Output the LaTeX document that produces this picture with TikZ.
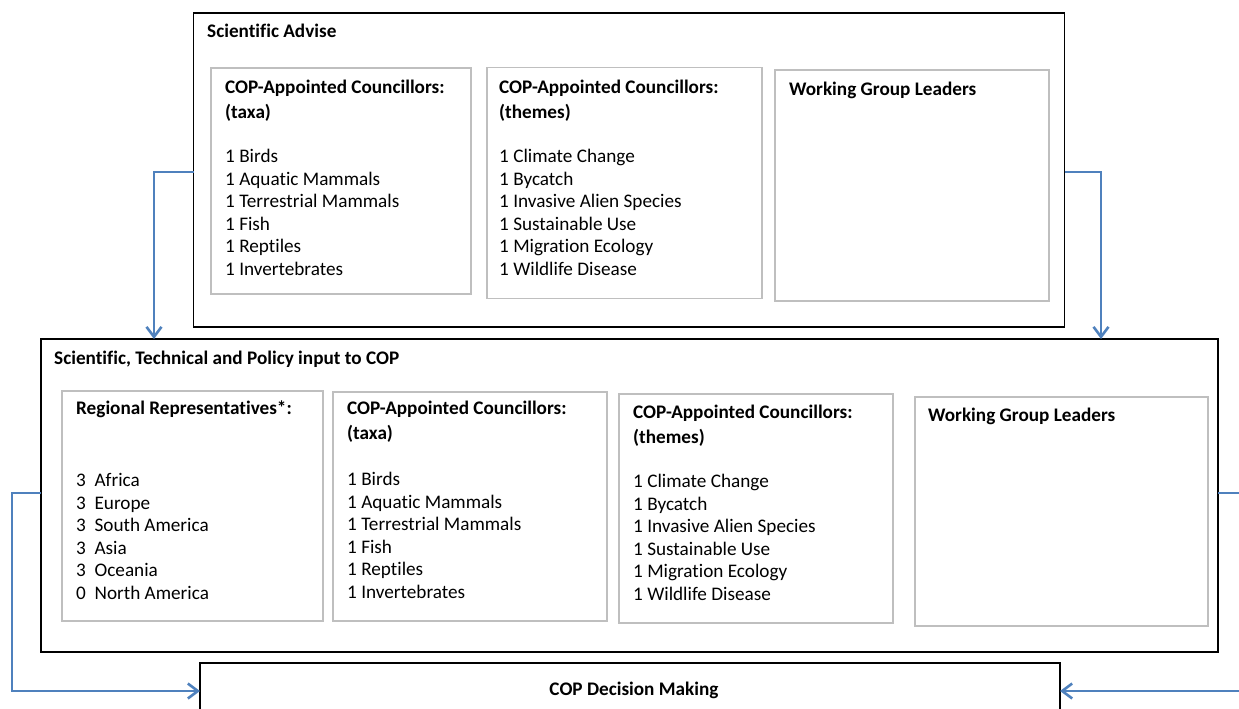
\documentclass[tikz,border=0pt]{standalone}
\usepackage{fontspec}
\setmainfont{Carlito}[Ligatures={NoCommon}]
\usetikzlibrary{arrows.meta}
\definecolor{cblue}{RGB}{79,129,189}
\definecolor{cgray}{RGB}{191,191,191}
\begin{document}
\begin{tikzpicture}[x=1pt,y=-1pt,
  outerbox/.style={draw=black, line width=1.6pt, inner sep=0pt, outer sep=0pt, anchor=north west},
  innerbox/.style={draw=cgray, line width=1.4pt, inner sep=0pt, outer sep=0pt, anchor=north west},
  headtxt/.style={font=\fontsize{19.2}{25}\selectfont\bfseries, align=left, anchor=north west, inner sep=0pt},
  listtxt/.style={font=\fontsize{19.2}{22.6}\selectfont, align=left, anchor=north west, inner sep=0pt},
  conn/.style={draw=cblue, line width=2.6pt, -{Straight Barb[length=10pt,width=15pt]}}
]
\useasboundingbox (0,0) rectangle (1239,709);

% ---------- top block ----------
\node[outerbox, minimum width=871pt, minimum height=314pt] (top) at (193.5,13) {};
\node[headtxt] (toptitle) at (207,24) {Scientific Advise};

\node[innerbox, minimum width=260pt, minimum height=226pt] (tA) at (211,68) {};
\node[headtxt] (tAh) at (225,80) {COP-Appointed Councillors:\\(taxa)};
\node[listtxt] (tAl) at (225,149) {1 Birds\\1 Aquatic Mammals\\1 Terrestrial Mammals\\1 Fish\\1 Reptiles\\1 Invertebrates};

\node[innerbox, minimum width=275pt, minimum height=231pt] (tB) at (487,67.5) {};
\node[headtxt] (tBh) at (499,80) {COP-Appointed Councillors:\\(themes)};
\node[listtxt] (tBl) at (499,149) {1 Climate Change\\1 Bycatch\\1 Invasive Alien Species\\1 Sustainable Use\\1 Migration Ecology\\1 Wildlife Disease};

\node[innerbox, minimum width=274pt, minimum height=231pt] (tC) at (775,70) {};
\node[headtxt] (tCh) at (789,82) {Working Group Leaders};

% ---------- middle block ----------
\node[outerbox, minimum width=1177pt, minimum height=313pt] (mid) at (41,339) {};
\node[headtxt] (midtitle) at (54,351) {Scientific, Technical and Policy input to COP};

\node[innerbox, minimum width=261pt, minimum height=230pt] (mA) at (62,391) {};
\node[headtxt] (mAh) at (76,401) {Regional Representatives*:};
\node[listtxt] (mAl) at (76,473) {3\ \ Africa\\3\ \ Europe\\3\ \ South America\\3\ \ Asia\\3\ \ Oceania\\0\ \ North America};

\node[innerbox, minimum width=274pt, minimum height=229pt] (mB) at (333,392) {};
\node[headtxt] (mBh) at (347,401) {COP-Appointed Councillors:\\(taxa)};
\node[listtxt] (mBl) at (347,472) {1 Birds\\1 Aquatic Mammals\\1 Terrestrial Mammals\\1 Fish\\1 Reptiles\\1 Invertebrates};

\node[innerbox, minimum width=274pt, minimum height=229pt] (mC) at (619,394) {};
\node[headtxt] (mCh) at (633,405) {COP-Appointed Councillors:\\(themes)};
\node[listtxt] (mCl) at (633,474) {1 Climate Change\\1 Bycatch\\1 Invasive Alien Species\\1 Sustainable Use\\1 Migration Ecology\\1 Wildlife Disease};

\node[innerbox, minimum width=293pt, minimum height=229pt] (mD) at (915,397) {};
\node[headtxt] (mDh) at (928,408) {Working Group Leaders};

% ---------- bottom block ----------
\node[outerbox, minimum width=860pt, minimum height=80pt] (bot) at (200,663) {};
\node[font=\fontsize{19.2}{22}\selectfont\bfseries, inner sep=0pt] (bottitle) at (634,690) {COP Decision Making};

% ---------- connectors ----------
\coordinate (c1) at (154,172);
\coordinate (c2) at (1101,172);
\coordinate (c3) at (12,493);
\coordinate (c4) at (12,691);
\coordinate (c5) at (1250,493);
\coordinate (c6) at (1250,691);

\draw[conn] (c1 -| top.west) -- (c1) -- (c1 |- mid.north);
\draw[conn] (c2 -| top.east) -- (c2) -- (c2 |- mid.north);
\draw[conn] (c3 -| mid.west) -- (c3) -- (c4) -- (c4 -| bot.west);
\draw[conn] (c5 -| mid.east) -- (c5) -- (c6) -- (c6 -| bot.east);
\end{tikzpicture}
\end{document}
